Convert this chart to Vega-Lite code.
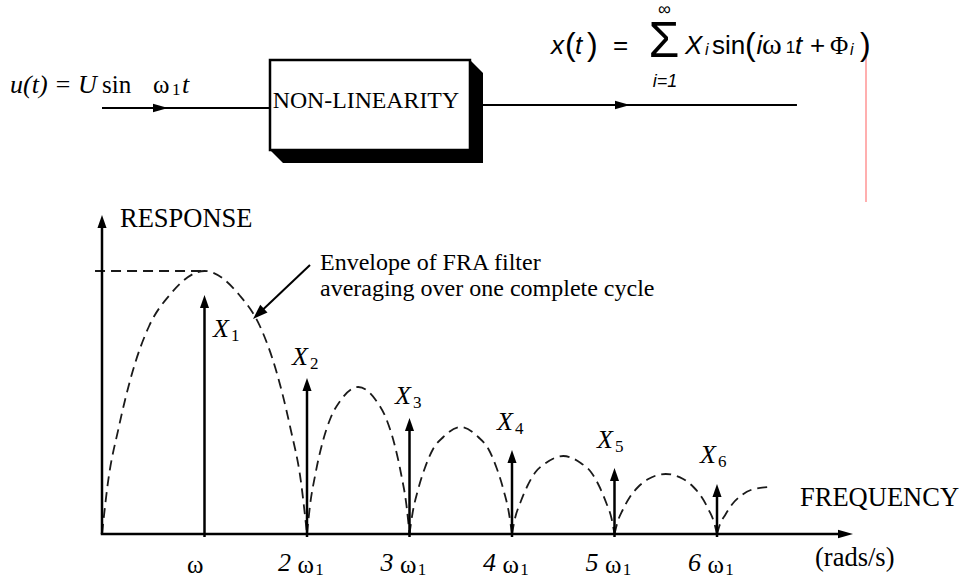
{
  "$schema": "https://vega.github.io/schema/vega-lite/v6.json",
  "width": 964,
  "height": 578,
  "padding": 0,
  "autosize": {"type": "none"},
  "background": "white",
  "config": {"view": {"stroke": null}},
  "datasets": {
    "envelope": [
      {"g": "A", "x": 0, "y": 0}, {"g": "A", "x": 0.06, "y": 5.3}, {"g": "A", "x": 0.16, "y": 10.5}, {"g": "A", "x": 0.3, "y": 16.3}, {"g": "A", "x": 0.46, "y": 20.8}, {"g": "A", "x": 0.66, "y": 23.9}, {"g": "A", "x": 1, "y": 26.3}, {"g": "A", "x": 1.34, "y": 23.9}, {"g": "A", "x": 1.54, "y": 20.8}, {"g": "A", "x": 1.7, "y": 16.3}, {"g": "A", "x": 1.84, "y": 10.5}, {"g": "A", "x": 1.94, "y": 5.3}, {"g": "A", "x": 2, "y": 0},
      {"g": "B", "x": 2, "y": 0}, {"g": "B", "x": 2.03, "y": 2.9}, {"g": "B", "x": 2.08, "y": 5.9}, {"g": "B", "x": 2.15, "y": 9.1}, {"g": "B", "x": 2.23, "y": 11.6}, {"g": "B", "x": 2.33, "y": 13.4}, {"g": "B", "x": 2.5, "y": 14.7}, {"g": "B", "x": 2.67, "y": 13.4}, {"g": "B", "x": 2.77, "y": 11.6}, {"g": "B", "x": 2.85, "y": 9.1}, {"g": "B", "x": 2.92, "y": 5.9}, {"g": "B", "x": 2.97, "y": 2.9}, {"g": "B", "x": 3, "y": 0},
      {"g": "C", "x": 3, "y": 0}, {"g": "C", "x": 3.03, "y": 2.1}, {"g": "C", "x": 3.08, "y": 4.3}, {"g": "C", "x": 3.15, "y": 6.6}, {"g": "C", "x": 3.23, "y": 8.5}, {"g": "C", "x": 3.33, "y": 9.7}, {"g": "C", "x": 3.5, "y": 10.7}, {"g": "C", "x": 3.67, "y": 9.7}, {"g": "C", "x": 3.77, "y": 8.5}, {"g": "C", "x": 3.85, "y": 6.6}, {"g": "C", "x": 3.92, "y": 4.3}, {"g": "C", "x": 3.97, "y": 2.1}, {"g": "C", "x": 4, "y": 0},
      {"g": "D", "x": 4, "y": 0}, {"g": "D", "x": 4.03, "y": 1.6}, {"g": "D", "x": 4.08, "y": 3.1}, {"g": "D", "x": 4.15, "y": 4.8}, {"g": "D", "x": 4.23, "y": 6.2}, {"g": "D", "x": 4.33, "y": 7.1}, {"g": "D", "x": 4.5, "y": 7.8}, {"g": "D", "x": 4.67, "y": 7.1}, {"g": "D", "x": 4.77, "y": 6.2}, {"g": "D", "x": 4.85, "y": 4.8}, {"g": "D", "x": 4.92, "y": 3.1}, {"g": "D", "x": 4.97, "y": 1.6}, {"g": "D", "x": 5, "y": 0},
      {"g": "E", "x": 5, "y": 0}, {"g": "E", "x": 5.03, "y": 1.2}, {"g": "E", "x": 5.08, "y": 2.4}, {"g": "E", "x": 5.15, "y": 3.7}, {"g": "E", "x": 5.23, "y": 4.7}, {"g": "E", "x": 5.33, "y": 5.5}, {"g": "E", "x": 5.5, "y": 6.0}, {"g": "E", "x": 5.67, "y": 5.5}, {"g": "E", "x": 5.77, "y": 4.7}, {"g": "E", "x": 5.85, "y": 3.7}, {"g": "E", "x": 5.92, "y": 2.4}, {"g": "E", "x": 5.97, "y": 1.2}, {"g": "E", "x": 6, "y": 0},
      {"g": "F", "x": 6, "y": 0}, {"g": "F", "x": 6.03, "y": 1.0}, {"g": "F", "x": 6.08, "y": 1.9}, {"g": "F", "x": 6.15, "y": 3.0}, {"g": "F", "x": 6.23, "y": 3.8}, {"g": "F", "x": 6.33, "y": 4.4}, {"g": "F", "x": 6.5, "y": 4.7},
      {"g": "H", "x": -0.068, "y": 26.3}, {"g": "H", "x": 1, "y": 26.3}
    ],
    "rulesThick": [
      {"x": 0, "y": 0, "x2": 0, "y2": 30.8},
      {"x": -0.012, "y": 0, "x2": 7.22, "y2": 0},
      {"x": 1, "y": -0.3, "x2": 1, "y2": 23.1},
      {"x": 2, "y": -0.3, "x2": 2, "y2": 14.8},
      {"x": 3, "y": -0.3, "x2": 3, "y2": 10.8},
      {"x": 4, "y": -0.3, "x2": 4, "y2": 7.6},
      {"x": 5, "y": -0.3, "x2": 5, "y2": 5.8},
      {"x": 6, "y": -0.3, "x2": 6, "y2": 4.2}
    ],
    "rulesThin": [
      {"x": 0, "y": 42.6, "x2": 1.639, "y2": 42.6},
      {"x": 3.717, "y": 42.9, "x2": 6.78, "y2": 42.9},
      {"x": 2.0293, "y": 26.9, "x2": 1.5298, "y2": 22.05}
    ],
    "redLine": [{"x": 7.4537, "y": 49.7, "x2": 7.4537, "y2": 33.2}],
    "headsUp": [
      {"x": 0, "y": 31.9}, {"x": 1, "y": 23.9}, {"x": 2, "y": 15.6}, {"x": 3, "y": 11.6}, {"x": 4, "y": 8.4}, {"x": 5, "y": 6.6}, {"x": 6, "y": 5.0}
    ],
    "headsRight": [
      {"x": 7.327, "y": 0}, {"x": 0.644, "y": 42.6}, {"x": 5.151, "y": 42.9}
    ],
    "headDiag": [{"x": 1.4732, "y": 21.5}],
    "box": [{"x": 1.639, "x2": 3.59, "y": 38.4, "y2": 47.4}],
    "shadow": [
      {"x": 1.639, "y": 38.4, "y2": 38.4},
      {"x": 1.766, "y": 37.1, "y2": 47.4},
      {"x": 3.59, "y": 37.1, "y2": 47.4},
      {"x": 3.717, "y": 37.1, "y2": 46.1}
    ],
    "serif25": [
      {"t": "ω", "x": 0.8293, "y": -3.9},
      {"t": "ω", "x": 1.907, "y": -3.9},
      {"t": "ω", "x": 2.907, "y": -3.9},
      {"t": "ω", "x": 3.907, "y": -3.9},
      {"t": "ω", "x": 4.907, "y": -3.9},
      {"t": "ω", "x": 5.907, "y": -3.9},
      {"t": "sin", "x": 0, "y": 44.1},
      {"t": "ω", "x": 0.4976, "y": 44.1},
      {"t": "Φ", "x": 7.1024, "y": 48.0}
    ],
    "formulaOmega": [
      {"t": "ω", "x": 6.44, "y": 48.0}
    ],
    "serifLabels": [
      {"t": "RESPONSE", "x": 0.1756, "y": 30.7},
      {"t": "FREQUENCY", "x": 6.8098, "y": 2.8},
      {"t": "(rads/s)", "x": 6.9561, "y": -3.2}
    ],
    "serifNote": [
      {"t": "Envelope of FRA filter", "x": 2.1268, "y": 26.4},
      {"t": "averaging over one complete cycle", "x": 2.1268, "y": 23.8}
    ],
    "serifBox": [{"t": "NON-LINEARITY", "x": 1.6654, "y": 42.6}],
    "serifItalic": [
      {"t": "X", "x": 1.0829, "y": 19.7},
      {"t": "X", "x": 1.8537, "y": 16.9},
      {"t": "X", "x": 2.8585, "y": 13.0},
      {"t": "X", "x": 3.8537, "y": 10.4},
      {"t": "X", "x": 4.8293, "y": 8.6},
      {"t": "X", "x": 5.8341, "y": 7.1},
      {"t": "2", "x": 1.717, "y": -3.7},
      {"t": "3", "x": 2.717, "y": -3.7},
      {"t": "4", "x": 3.717, "y": -3.7},
      {"t": "5", "x": 4.717, "y": -3.7},
      {"t": "6", "x": 5.717, "y": -3.7},
      {"t": "u(t) = U", "x": -0.8976, "y": 44.1},
      {"t": "t", "x": 0.7805, "y": 44.1}
    ],
    "serifSub": [
      {"t": "1", "x": 1.2585, "y": 19.3},
      {"t": "2", "x": 2.0293, "y": 16.5},
      {"t": "3", "x": 3.0341, "y": 12.6},
      {"t": "4", "x": 4.0293, "y": 10.0},
      {"t": "5", "x": 5.0049, "y": 8.2},
      {"t": "6", "x": 6.0098, "y": 6.7},
      {"t": "1", "x": 2.08, "y": -4.1},
      {"t": "1", "x": 3.08, "y": -4.1},
      {"t": "1", "x": 4.08, "y": -4.1},
      {"t": "1", "x": 5.08, "y": -4.1},
      {"t": "1", "x": 6.08, "y": -4.1},
      {"t": "1", "x": 0.6829, "y": 43.9}
    ],
    "sansItalic": [
      {"t": "x", "x": 4.3805, "y": 48.0},
      {"t": "t", "x": 4.6146, "y": 48.0},
      {"t": "X", "x": 5.6878, "y": 48.0},
      {"t": "i", "x": 6.385, "y": 48.0},
      {"t": "t", "x": 6.761, "y": 48.0}
    ],
    "sansNormal": [
      {"t": "=", "x": 4.9854, "y": 48.0},
      {"t": "sin", "x": 5.9512, "y": 48.0},
      {"t": "+", "x": 6.9073, "y": 48.0}
    ],
    "sigma": [{"t": "Σ", "x": 5.4829, "y": 47.7}],
    "parens": [
      {"t": "(", "x": 4.517, "y": 47.9},
      {"t": ")", "x": 4.732, "y": 47.9},
      {"t": "(", "x": 6.2732, "y": 47.9},
      {"t": ")", "x": 7.3951, "y": 47.9}
    ],
    "sansLimit": [
      {"t": "i=1", "x": 5.4927, "y": 44.7}
    ],
    "sansSubItalic": [
      {"t": "i", "x": 5.8829, "y": 47.9},
      {"t": "i", "x": 7.2976, "y": 47.9}
    ],
    "sansInf": [
      {"t": "∞", "x": 5.4878, "y": 51.9}
    ],
    "sansSub": [
      {"t": "1", "x": 6.67, "y": 48.1}
    ]
  },
  "encoding": {
    "x": {"field": "x", "type": "quantitative", "scale": {"domain": [-0.99512, 8.40976], "nice": false, "zero": false}, "axis": null},
    "y": {"field": "y", "type": "quantitative", "scale": {"domain": [-4.4, 53.4], "nice": false, "zero": false}, "axis": null}
  },
  "layer": [
    {
      "data": {"name": "shadow"},
      "mark": {"type": "area", "orient": "vertical", "color": "black", "opacity": 1},
      "encoding": {"y2": {"field": "y2"}}
    },
    {
      "data": {"name": "box"},
      "mark": {"type": "rect", "fill": "white", "stroke": "black", "strokeWidth": 2.5},
      "encoding": {"x2": {"field": "x2"}, "y2": {"field": "y2"}}
    },
    {
      "data": {"name": "envelope"},
      "mark": {"type": "line", "color": "#1a1a1a", "strokeWidth": 1.8, "strokeDash": [10, 6], "interpolate": "monotone"},
      "encoding": {"detail": {"field": "g"}}
    },
    {
      "data": {"name": "rulesThick"},
      "mark": {"type": "rule", "color": "black", "strokeWidth": 2.5},
      "encoding": {"x2": {"field": "x2"}, "y2": {"field": "y2"}}
    },
    {
      "data": {"name": "rulesThin"},
      "mark": {"type": "rule", "color": "black", "strokeWidth": 2},
      "encoding": {"x2": {"field": "x2"}, "y2": {"field": "y2"}}
    },
    {
      "data": {"name": "redLine"},
      "mark": {"type": "rule", "color": "#ff7a7a", "strokeWidth": 1.2},
      "encoding": {"x2": {"field": "x2"}, "y2": {"field": "y2"}}
    },
    {
      "data": {"name": "headsUp"},
      "mark": {"type": "point", "shape": "M0,0L-0.35,1L0.35,1Z", "size": 676, "filled": true, "color": "black", "opacity": 1, "strokeWidth": 0}
    },
    {
      "data": {"name": "headsRight"},
      "mark": {"type": "point", "shape": "M0,0L-0.28,1L0.28,1Z", "size": 900, "angle": 90, "filled": true, "color": "black", "opacity": 1, "strokeWidth": 0}
    },
    {
      "data": {"name": "headDiag"},
      "mark": {"type": "point", "shape": "M0,0L-0.35,1L0.35,1Z", "size": 900, "angle": 226.5, "filled": true, "color": "black", "opacity": 1, "strokeWidth": 0}
    },
    {
      "data": {"name": "serif25"},
      "mark": {"type": "text", "font": "Liberation Serif", "fontSize": 25, "align": "left", "baseline": "alphabetic", "color": "black"},
      "encoding": {"text": {"field": "t"}}
    },
    {
      "data": {"name": "formulaOmega"},
      "mark": {"type": "text", "font": "Liberation Serif", "fontSize": 30, "align": "left", "baseline": "alphabetic", "color": "black"},
      "encoding": {"text": {"field": "t"}}
    },
    {
      "data": {"name": "serifLabels"},
      "mark": {"type": "text", "font": "Liberation Serif", "fontSize": 26.5, "align": "left", "baseline": "alphabetic", "color": "black"},
      "encoding": {"text": {"field": "t"}}
    },
    {
      "data": {"name": "serifNote"},
      "mark": {"type": "text", "font": "Liberation Serif", "fontSize": 24, "align": "left", "baseline": "alphabetic", "color": "black"},
      "encoding": {"text": {"field": "t"}}
    },
    {
      "data": {"name": "serifBox"},
      "mark": {"type": "text", "font": "Liberation Serif", "fontSize": 23.8, "align": "left", "baseline": "alphabetic", "color": "black"},
      "encoding": {"text": {"field": "t"}}
    },
    {
      "data": {"name": "serifItalic"},
      "mark": {"type": "text", "font": "Liberation Serif", "fontSize": 26, "fontStyle": "italic", "align": "left", "baseline": "alphabetic", "color": "black"},
      "encoding": {"text": {"field": "t"}}
    },
    {
      "data": {"name": "serifSub"},
      "mark": {"type": "text", "font": "Liberation Serif", "fontSize": 17, "align": "left", "baseline": "alphabetic", "color": "black"},
      "encoding": {"text": {"field": "t"}}
    },
    {
      "data": {"name": "sansItalic"},
      "mark": {"type": "text", "font": "Liberation Sans", "fontSize": 26, "fontStyle": "italic", "align": "left", "baseline": "alphabetic", "color": "black"},
      "encoding": {"text": {"field": "t"}}
    },
    {
      "data": {"name": "sansNormal"},
      "mark": {"type": "text", "font": "Liberation Sans", "fontSize": 26, "align": "left", "baseline": "alphabetic", "color": "black"},
      "encoding": {"text": {"field": "t"}}
    },
    {
      "data": {"name": "sigma"},
      "mark": {"type": "text", "font": "Liberation Sans", "fontSize": 50, "align": "center", "baseline": "alphabetic", "color": "black"},
      "encoding": {"text": {"field": "t"}}
    },
    {
      "data": {"name": "parens"},
      "mark": {"type": "text", "font": "Liberation Sans", "fontSize": 32, "fontWeight": 300, "align": "left", "baseline": "alphabetic", "color": "black"},
      "encoding": {"text": {"field": "t"}}
    },
    {
      "data": {"name": "sansLimit"},
      "mark": {"type": "text", "font": "Liberation Sans", "fontSize": 18, "fontStyle": "italic", "align": "center", "baseline": "alphabetic", "color": "black"},
      "encoding": {"text": {"field": "t"}}
    },
    {
      "data": {"name": "sansSubItalic"},
      "mark": {"type": "text", "font": "Liberation Sans", "fontSize": 16, "fontStyle": "italic", "align": "left", "baseline": "alphabetic", "color": "black"},
      "encoding": {"text": {"field": "t"}}
    },
    {
      "data": {"name": "sansInf"},
      "mark": {"type": "text", "font": "Liberation Sans", "fontSize": 18, "align": "center", "baseline": "alphabetic", "color": "black"},
      "encoding": {"text": {"field": "t"}}
    },
    {
      "data": {"name": "sansSub"},
      "mark": {"type": "text", "font": "Liberation Sans", "fontSize": 17, "align": "left", "baseline": "alphabetic", "color": "black"},
      "encoding": {"text": {"field": "t"}}
    }
  ]
}
